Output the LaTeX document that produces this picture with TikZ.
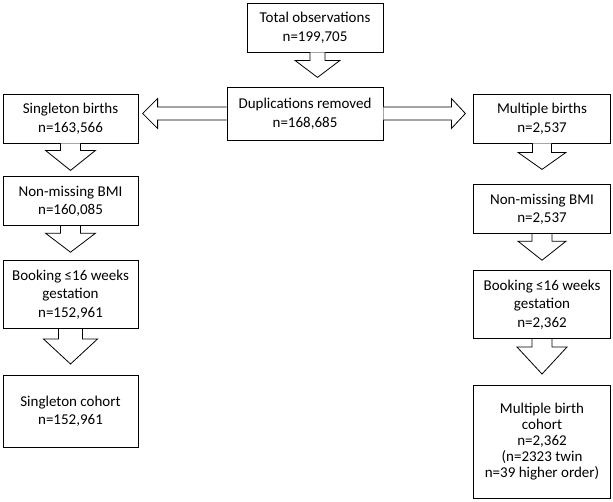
\documentclass[tikz,border=0pt]{standalone}
\usepackage{fontspec}
\setmainfont{Carlito}
\usetikzlibrary{positioning}

\tikzset{
    blk/.style={draw=black, line width=0.8pt, fill=white, line join=miter},
    % open block arrows, drawn from a node border
    pics/downarr/.style n args={4}{code={
        \draw[blk] (-#1,0) -- (-#1,#3) -- (-#2,#3) -- (0,#4) -- (#2,#3) -- (#1,#3) -- (#1,0);
    }},
    pics/leftarr/.style n args={4}{code={
        \draw[blk] (0,-#1) -- (-#3,-#1) -- (-#3,-#2) -- (-#4,0) -- (-#3,#2) -- (-#3,#1) -- (0,#1);
    }},
    pics/rightarr/.style n args={4}{code={
        \draw[blk] (0,-#1) -- (#3,-#1) -- (#3,-#2) -- (#4,0) -- (#3,#2) -- (#3,#1) -- (0,#1);
    }}
}

\begin{document}
\begin{tikzpicture}[
        x=1pt, y=-1pt,
        box/.style={
            rectangle,
            draw=black,
            line width=0.8pt,
            fill=white,
            align=center,
            inner sep=2pt,
            font=\fontsize{15}{18.5}\selectfont
        },
        lbox/.style={box, minimum width=135pt},
        rbox/.style={box, minimum width=137pt}
    ]
    \useasboundingbox (0,0) rectangle (613,501);
    \node[box, minimum width=136pt, minimum height=49pt] (total) at (315,27.5) {Total observations\\ n=199,705};
    \node[box, minimum width=156pt, minimum height=53pt] (dup) at (305,113.5) {Duplications removed\\ n=168,685};
    \node[lbox, minimum height=49pt] (sing) at (70.5,118.5) {Singleton births\\ n=163,566};
    \node[rbox, minimum height=49pt] (mult) at (542,118.5) {Multiple births\\ n=2,537};

    \node[lbox, minimum height=49pt, below=33pt of sing] (nmL) {Non-missing BMI\\ n=160,085};
    \node[lbox, minimum height=68pt, below=34pt of nmL] (bkL) {Booking ≤16 weeks\\ gestation\\ n=152,961};
    \node[lbox, minimum height=72pt, below=46pt of bkL] (cohL) {Singleton cohort\\ n=152,961};

    \node[rbox, minimum height=49pt, below=41pt of mult] (nmR) {Non-missing BMI\\ n=2,537};
    \node[rbox, minimum height=68pt, below=36pt of nmR] (bkR) {Booking ≤16 weeks\\ gestation\\ n=2,362};
    \node[rbox, minimum height=113pt, below=46pt of bkR, font=\fontsize{15}{16}\selectfont] (cohR) {Multiple birth\\ cohort\\ n=2,362\\ (n=2323 twin\\ n=39 higher order)};

    \pic at ([xshift=2.5pt]total.south) {downarr={7.5}{22.5}{8}{25}};
    \pic at (dup.west) {leftarr={6.5}{15}{69}{84}};
    \pic at (dup.east) {rightarr={6.5}{15}{68}{82}};
    \pic at (sing.south) {downarr={10}{25}{7}{27}};
    \pic at (nmL.south) {downarr={10}{25}{7}{26}};
    \pic at (bkL.south) {downarr={12}{27}{10}{35}};
    \pic at (mult.south) {downarr={9.5}{24}{9}{26}};
    \pic at (nmR.south) {downarr={10}{24}{7}{26}};
    \pic at (bkR.south) {downarr={10}{25}{8}{35}};
\end{tikzpicture}
\end{document}
